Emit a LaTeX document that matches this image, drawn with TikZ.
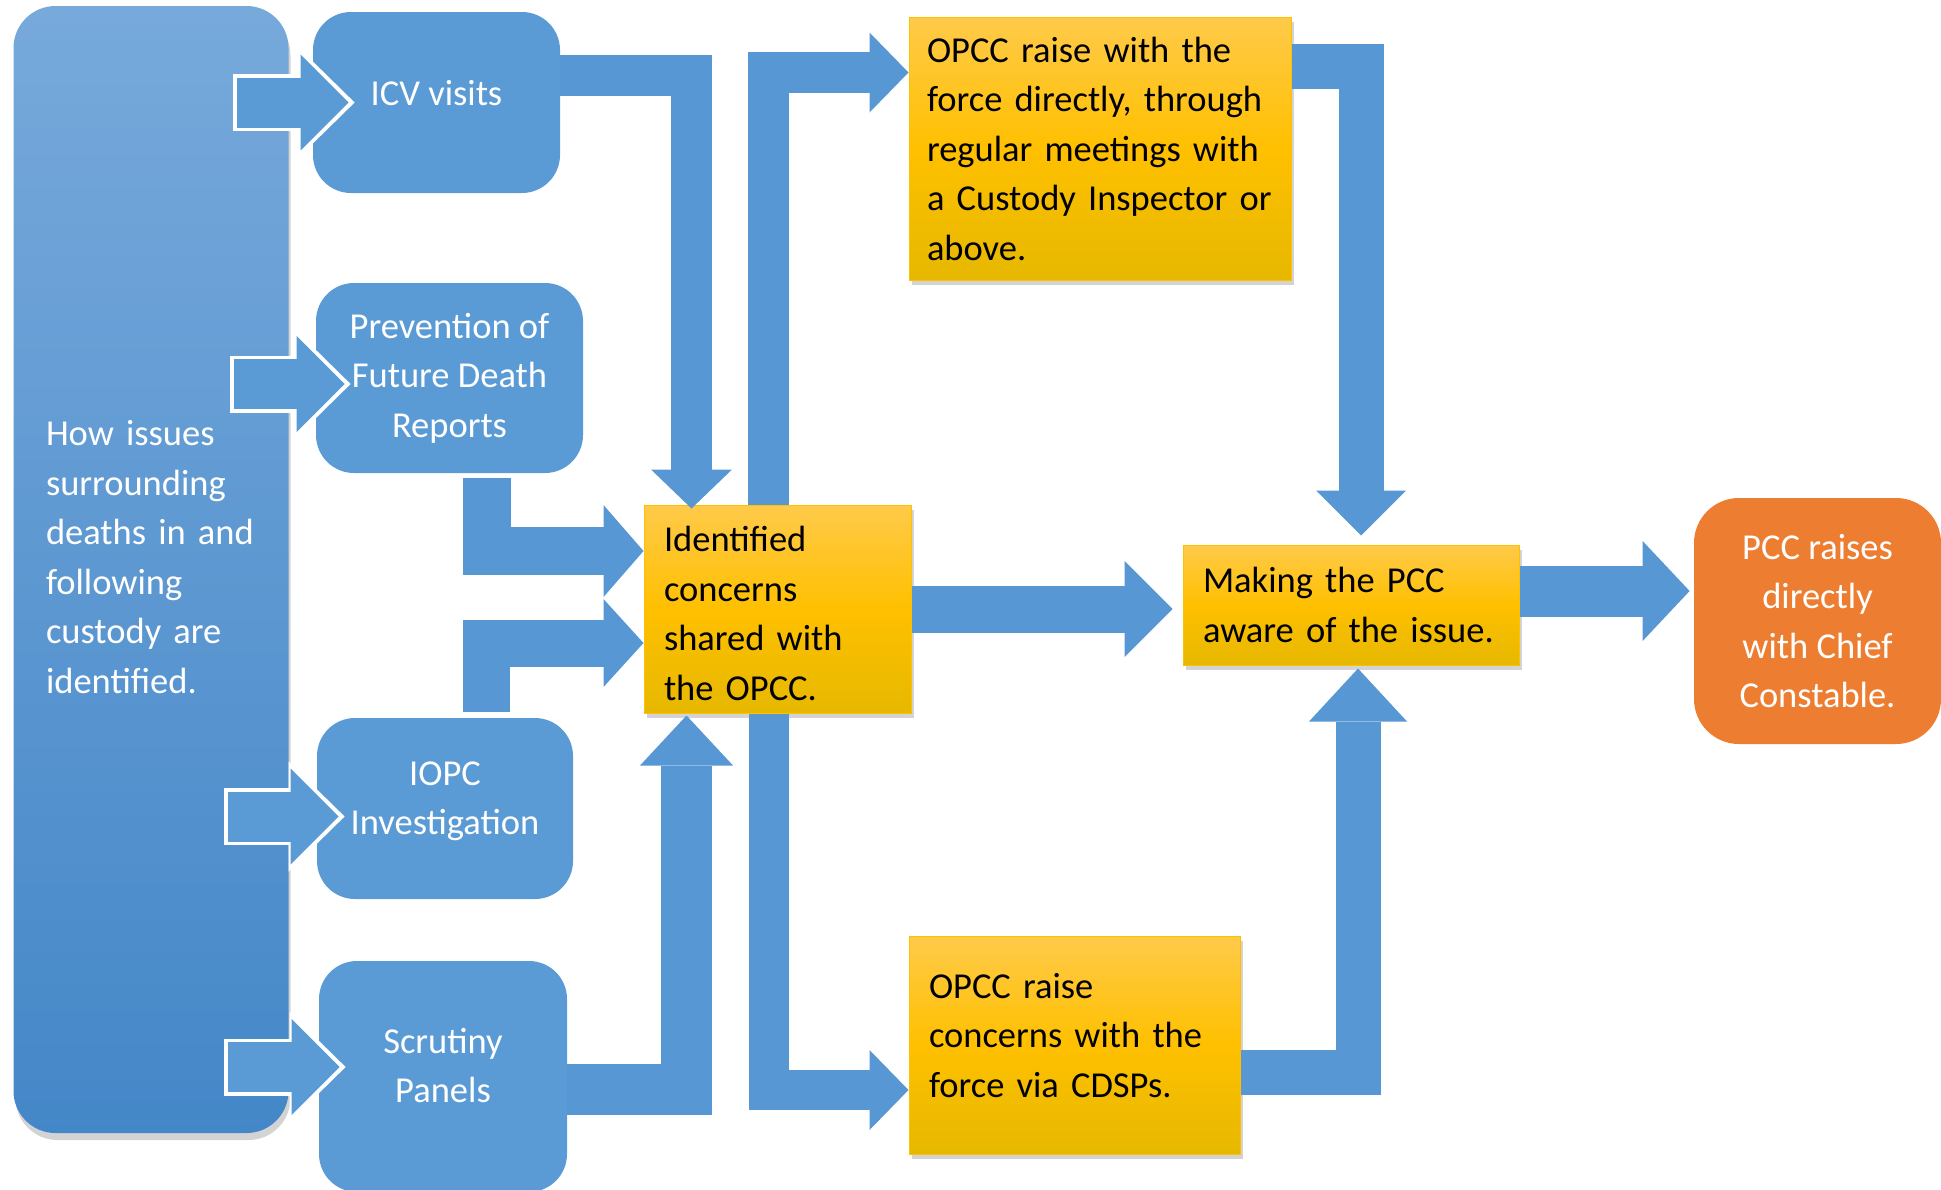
\documentclass[tikz,border=0pt]{standalone}
\usepackage{fontspec}
\setmainfont{Carlito}
\usepackage{tikz}
\usetikzlibrary{positioning,arrows.meta,shadows}

\definecolor{sininen}{HTML}{5B9BD5}
\definecolor{nuolisin}{HTML}{5797D4}
\definecolor{vasylin}{HTML}{77A9DB}
\definecolor{vasalin}{HTML}{4487C8}
\definecolor{keltyla}{HTML}{FFCA4A}
\definecolor{keltkes}{HTML}{FFC000}
\definecolor{keltala}{HTML}{E6B800}
\definecolor{oranssi}{HTML}{ED7D31}

\begin{document}
\begin{tikzpicture} [x=1pt, y=-1pt, thick,
    teksti/.style={font=\fontsize{36.5}{49.5}\selectfont},
    vasen/.style={rounded corners=42pt, top color=vasylin, bottom color=vasalin,
                  text=white, teksti, align=left, text width=210pt,
                  drop shadow={shadow xshift=2pt, shadow yshift=-7pt, opacity=0.35}},
    lahde/.style={rounded corners=38pt, fill=sininen, text=white, teksti, align=center, inner sep=0pt},
    keltainen/.style={top color=keltyla, bottom color=keltala, middle color=keltkes,
                  draw=keltkes, line width=1pt, teksti, align=left, inner xsep=20pt,
                  drop shadow={shadow xshift=3pt, shadow yshift=-5pt, opacity=0.35}},
    tulos/.style={rounded corners=45pt, fill=oranssi, text=white, teksti, align=center},
    nuoli/.style n args={3}{draw=nuolisin, line width=#1,
                  -{Triangle[length=#2, width=#3, line width=0pt]}},
    syotto/.style={draw=sininen, line width=50pt,
                  -{Triangle[length=48pt, width=96pt, line width=0pt]},
                  preaction={draw=white, line width=57pt, shorten <=-4pt, shorten >=-6pt,
                             -{Triangle[length=56pt, width=110pt, line width=0pt]}}},
    vaaka/.style={to path={-| (\tikztotarget)}},
    pysty/.style={to path={|- (\tikztotarget)}}]

\useasboundingbox (0,0) rectangle (1941,1189);

\node[vasen] (Nissues) at (151,569.5) [minimum width=275pt, minimum height=1127pt, text depth=273pt]
  {How issues\\surrounding\\deaths in and\\following\\custody are\\identified.};
\node[lahde] (Nicv) at (436.5,102.5) [minimum width=247pt, minimum height=181pt, text depth=20pt] {ICV visits};
\node[lahde] (Nprev) at (449.5,378) [minimum width=267pt, minimum height=190pt]
  {Prevention of\\Future Death\\Reports};
\node[lahde] (Niopc) at (445,808.5) [minimum width=256pt, minimum height=181pt, text depth=21pt]
  {IOPC\\Investigation};
\node[lahde] (Nscrut) at (443,1076.5) [minimum width=248pt, minimum height=231pt, text depth=22pt]
  {Scrutiny\\Panels};
\node[keltainen] (Nident) at (777.5,609) [minimum width=267pt, minimum height=208pt,
  text width=227pt, text depth=140pt]
  {Identified\\concerns\\shared with\\the OPCC.};
\node[keltainen] (Nraise) at (1100,148.5) [minimum width=382pt, minimum height=263pt,
  text width=346pt, inner xsep=18pt]
  {OPCC raise with the\\force directly, through\\regular meetings with\\a Custody Inspector or\\above.};
\node[keltainen] (Nmake) at (1351,605) [minimum width=336pt, minimum height=120pt, text width=296pt]
  {Making the PCC\\aware of the issue.};
\node[keltainen] (Ncdsp) at (1074.5,1045) [minimum width=331pt, minimum height=218pt,
  text width=291pt, text depth=119pt]
  {OPCC raise\\concerns with the\\force via CDSPs.};
\node[tulos] (Npcc) at (1817.5,621) [minimum width=247pt, minimum height=246pt]
  {PCC raises\\directly\\with Chief\\Constable.};

\coordinate (Ticv) at ([xshift=36pt]Nicv.west);
\coordinate (Tprev) at ([xshift=29pt,yshift=-6pt]Nprev.west);
\coordinate (Tiopc) at ([xshift=22pt,yshift=-8pt]Niopc.west);
\coordinate (Tscrut) at ([xshift=21pt,yshift=9.5pt]Nscrut.west);

 \path
    ([xshift=-52pt]Nissues.east |- Ticv) edge[syotto] (Ticv)
    ([xshift=-55pt]Nissues.east |- Tprev) edge[syotto] (Tprev)
    ([xshift=-61pt]Nissues.east |- Tiopc) edge[syotto] (Tiopc)
    ([xshift=-61pt]Nissues.east |- Tscrut) edge[syotto] (Tscrut);

 \path
    ([yshift=-64pt]Nicv.north east) edge[nuoli={41pt}{39pt}{81pt}, vaaka]
        ([xshift=48pt,yshift=-4pt]Nident.north west)
    ([xshift=37pt,yshift=-5pt]Nprev.south) edge[nuoli={48pt}{40pt}{92pt}, pysty]
        ([yshift=58pt]Nident.west)
    ([xshift=41pt,yshift=6pt]Niopc.north) edge[nuoli={47pt}{40pt}{88pt}, pysty]
        ([yshift=-34pt]Nident.west)
    ([yshift=-12.5pt]Nscrut.east) edge[nuoli={51pt}{50pt}{93pt}, vaaka]
        ([xshift=43pt,yshift=-2pt]Nident.south west)
    ([xshift=-9pt]Nident.north) edge[nuoli={41pt}{39pt}{80pt}, pysty]
        ([yshift=-56pt]Nraise.north west)
    ([xshift=-9pt]Nident.south) edge[nuoli={40pt}{39pt}{80pt}, pysty]
        ([yshift=-45pt]Ncdsp.west)
    (Nident.east) edge[nuoli={47pt}{48pt}{96pt}]
        ([xshift=-10pt]Nmake.west |- Nident.east)
    ([yshift=-50pt]Nraise.north east) edge[nuoli={45pt}{45pt}{90pt}, vaaka]
        ([xshift=10pt,yshift=9pt]Nmake.north)
    ([yshift=-27pt]Ncdsp.east) edge[nuoli={45pt}{53pt}{98pt}, vaaka]
        ([xshift=7pt,yshift=-3pt]Nmake.south)
    ([yshift=14pt]Nmake.east) edge[nuoli={51pt}{47pt}{100pt}]
        ([xshift=-4pt,yshift=30pt]Npcc.west);
\end{tikzpicture}
\end{document}
